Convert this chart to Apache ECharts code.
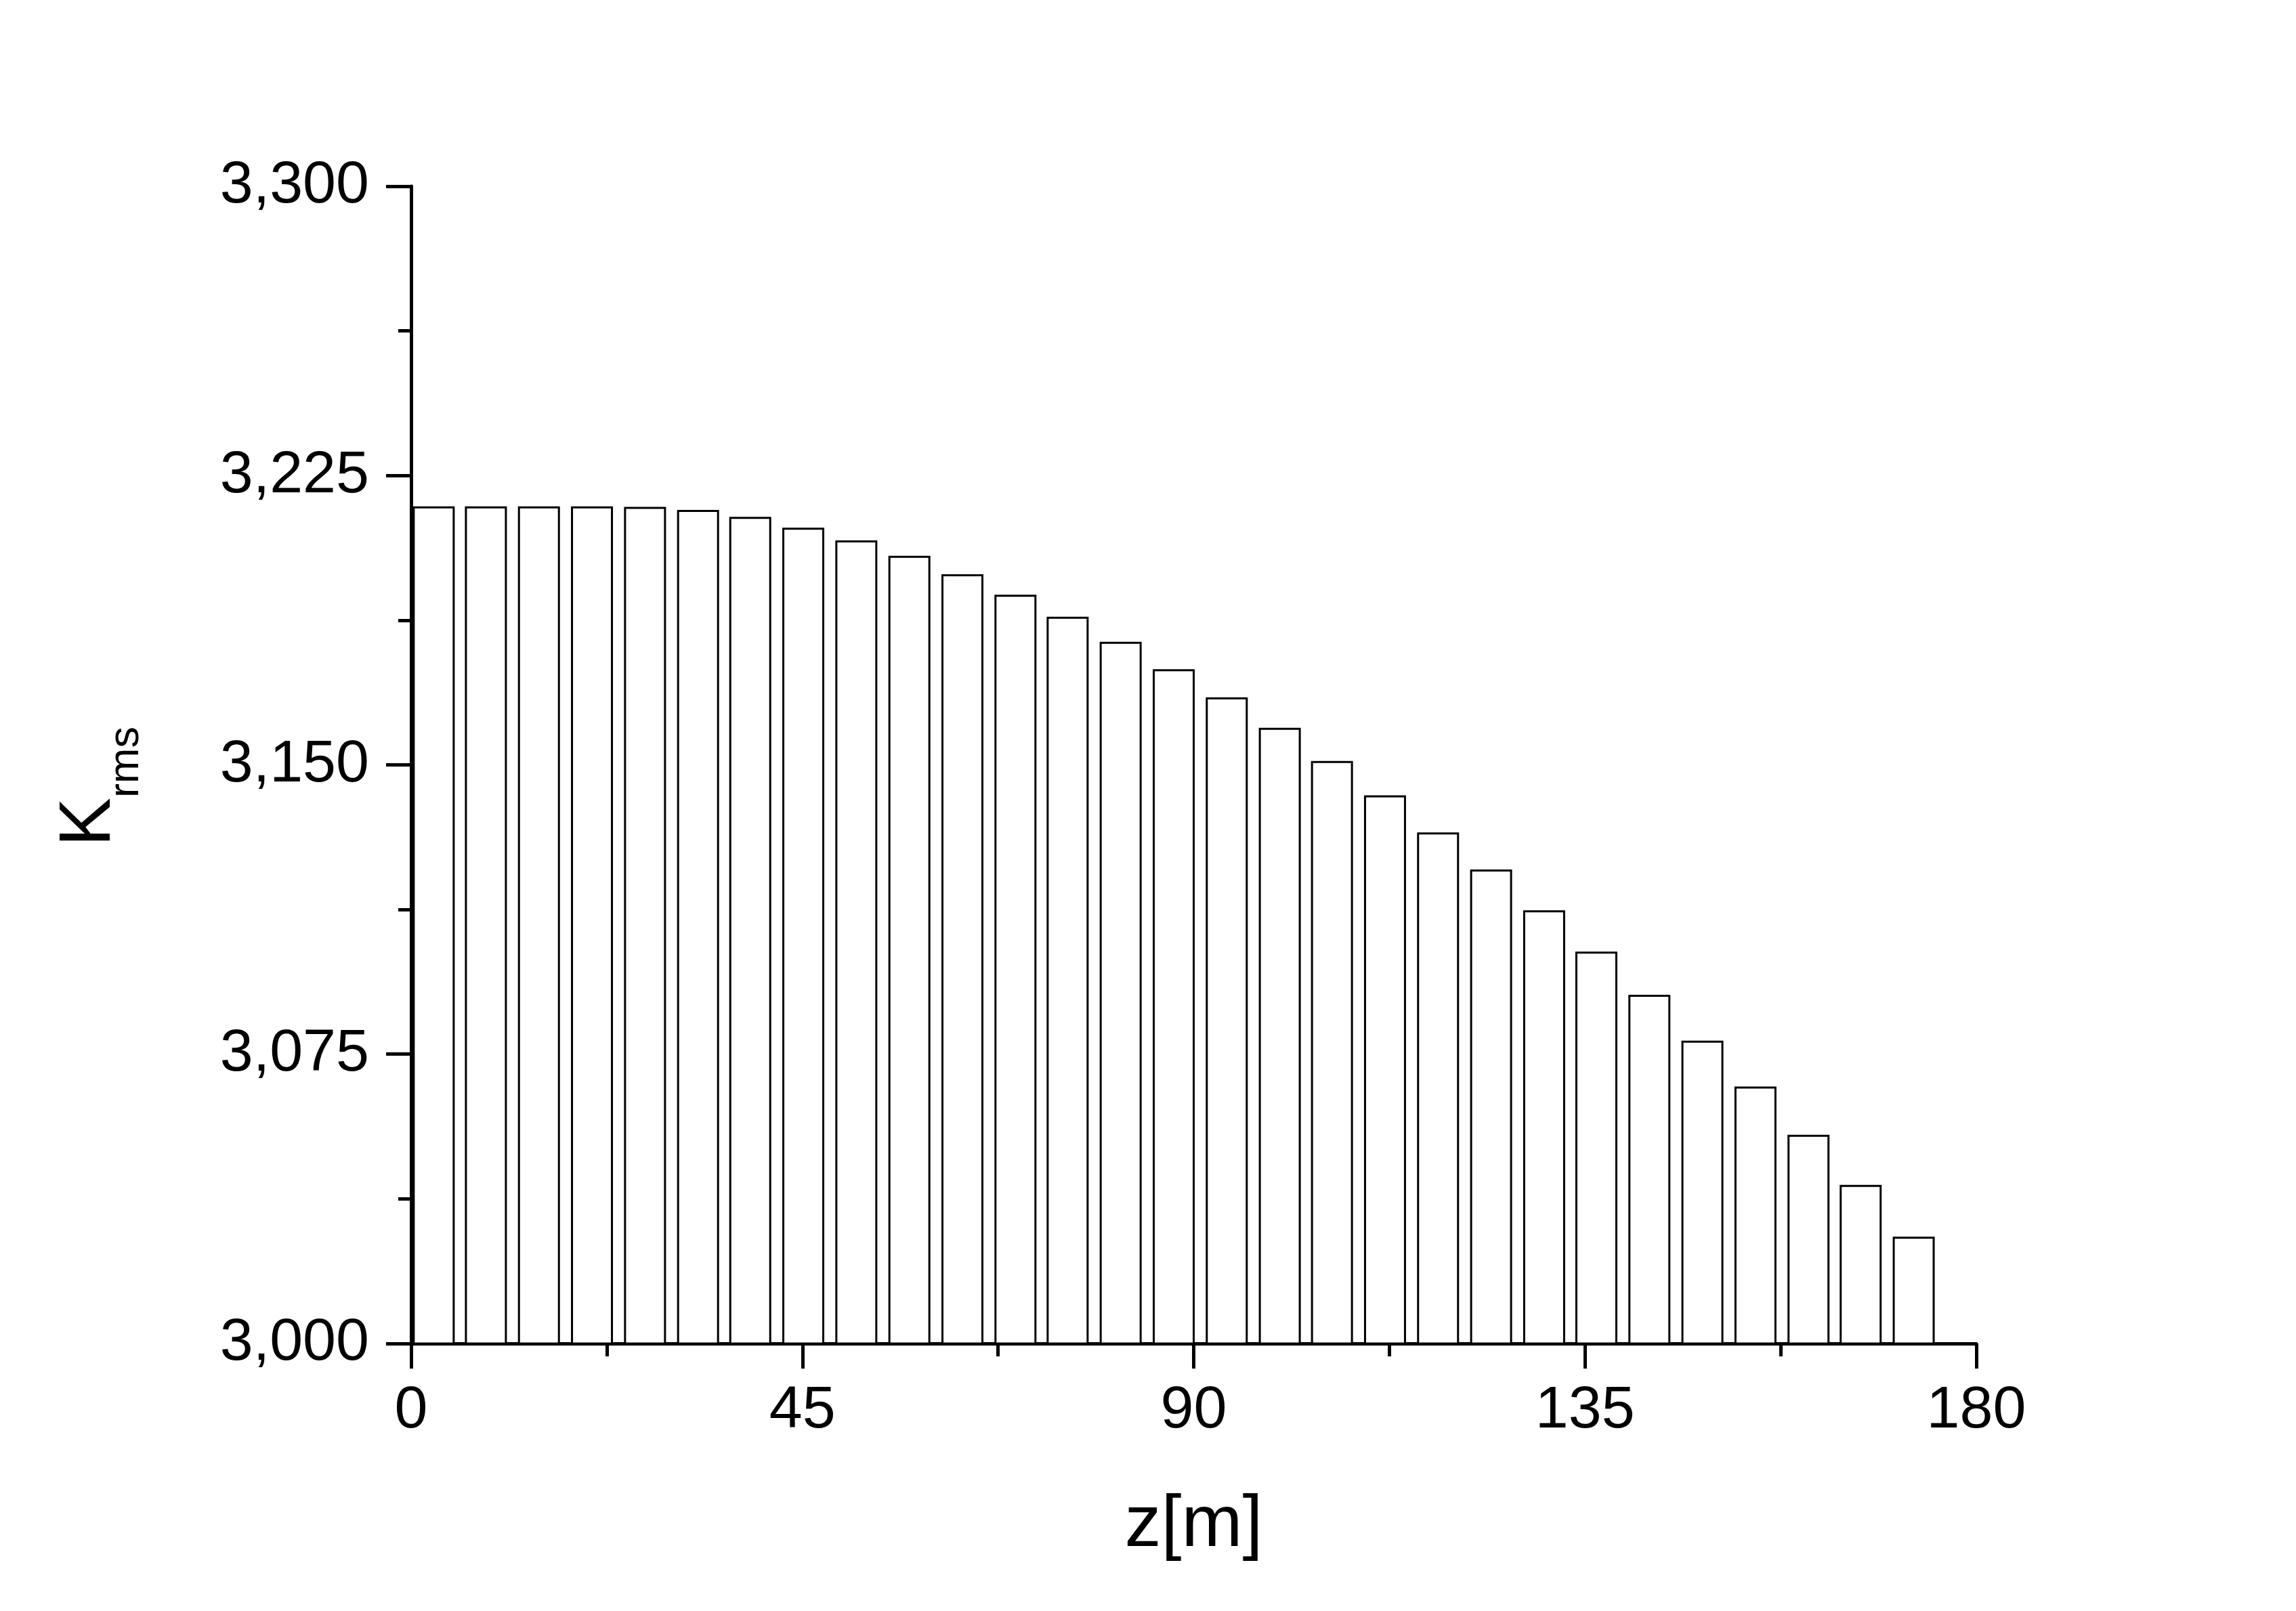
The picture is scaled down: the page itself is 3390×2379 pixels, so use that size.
<!DOCTYPE html>
<html>
<head>
<meta charset="utf-8">
<script src="https://cdn.jsdelivr.net/npm/echarts@6/dist/echarts.min.js"></script>
<style>
html,body{margin:0;padding:0;background:#fff;}
#chart{width:3390px;height:2379px;}
</style>
</head>
<body>
<div id="chart"></div>
<script>
// z positions of the bar centres [m]
const zValues = [2.6, 8.6, 14.7, 20.8, 26.9, 33.0, 39.0, 45.1, 51.2, 57.3,
                 63.4, 69.5, 75.5, 81.6, 87.7, 93.8, 99.9, 105.9, 112.0, 118.1,
                 124.2, 130.3, 136.3, 142.4, 148.5, 154.6, 160.7, 166.7, 172.8];
// K_rms values
const kRms = [3.2170, 3.2170, 3.2170, 3.2170, 3.2169, 3.2161, 3.2143, 3.2115, 3.2082, 3.2042,
              3.1994, 3.1941, 3.1884, 3.1819, 3.1748, 3.1675, 3.1596, 3.1510, 3.1421, 3.1325,
              3.1229, 3.1123, 3.1016, 3.0904, 3.0785, 3.0666, 3.0541, 3.0411, 3.0277];
const xTicks = [0, 45, 90, 135, 180];
const yTicks = [3.000, 3.075, 3.150, 3.225, 3.300];
const xTitle = 'z[m]';
const yTitleMain = 'K';
const yTitleSub = 'rms';

const FONT = 'Liberation Sans, Arial, sans-serif';
const chart = echarts.init(document.getElementById('chart'), null, {renderer: 'canvas'});

const barData = zValues.map((z, i) => [z, kRms[i]]);

const option = {
  backgroundColor: '#ffffff',
  animation: false,
  grid: {left: 607, top: 275, right: 472, bottom: 395, containLabel: false},
  xAxis: {
    type: 'value',
    min: xTicks[0], max: xTicks[xTicks.length - 1], interval: xTicks[1] - xTicks[0],
    name: xTitle,
    nameLocation: 'middle',
    nameGap: 215,
    nameTextStyle: {fontFamily: FONT, fontSize: 108, color: '#000'},
    axisLine: {show: true, lineStyle: {color: '#000', width: 5}},
    axisTick: {show: true, length: 37, lineStyle: {color: '#000', width: 5}},
    minorTick: {show: true, splitNumber: 2, length: 19, lineStyle: {color: '#000', width: 5}},
    splitLine: {show: false},
    minorSplitLine: {show: false},
    axisLabel: {fontFamily: FONT, fontSize: 88, color: '#000', margin: 56,
      formatter: v => String(v)}
  },
  yAxis: {
    type: 'value',
    min: yTicks[0], max: yTicks[yTicks.length - 1], interval: 0.075,
    name: '{k|' + yTitleMain + '}{s|' + yTitleSub + '}',
    nameLocation: 'middle',
    nameGap: 421,
    nameTextStyle: {
      color: '#000',
      fontFamily: FONT,
      padding: [0, 64, 0, 0],
      rich: {
        k: {fontFamily: FONT, fontSize: 108, color: '#000', verticalAlign: 'bottom', lineHeight: 120},
        s: {fontFamily: FONT, fontSize: 63, color: '#000', verticalAlign: 'bottom', lineHeight: 120, padding: [0, 0, -32, 0]}
      }
    },
    axisLine: {show: true, lineStyle: {color: '#000', width: 5}},
    axisTick: {show: true, length: 37, lineStyle: {color: '#000', width: 5}},
    minorTick: {show: true, splitNumber: 2, length: 19, lineStyle: {color: '#000', width: 5}},
    splitLine: {show: false},
    minorSplitLine: {show: false},
    axisLabel: {fontFamily: FONT, fontSize: 88, color: '#000', margin: 62,
      formatter: v => v.toFixed(3).replace('.', ',')}
  },
  series: [{
    type: 'bar',
    data: barData,
    barWidth: 62,
    clip: true,
    itemStyle: {color: '#ffffff', borderColor: '#000000', borderWidth: 3},
    emphasis: {disabled: true}
  }]
};
chart.setOption(option);
</script>
</body>
</html>
